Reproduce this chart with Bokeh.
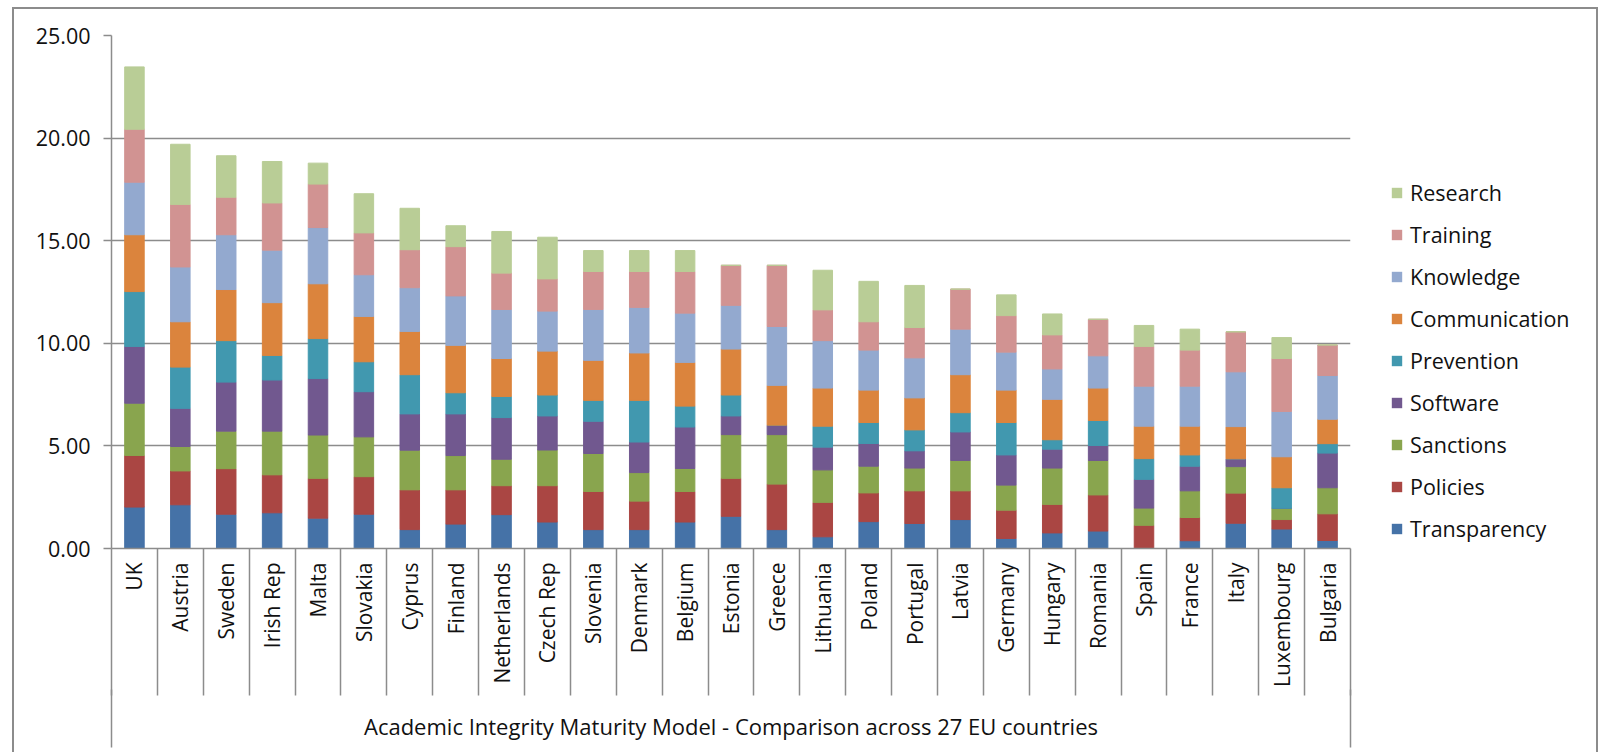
import math
from bokeh.plotting import figure
from bokeh.layouts import row
from bokeh.models import (Range1d, LinearAxis, FixedTicker, NumeralTickFormatter,
                          Legend, LegendItem, ColumnDataSource)
from bokeh.embed import file_html
from bokeh.resources import INLINE

countries = ["UK", "Austria", "Sweden", "Irish Rep", "Malta", "Slovakia", "Cyprus",
             "Finland", "Netherlands", "Czech Rep", "Slovenia", "Denmark", "Belgium",
             "Estonia", "Greece", "Lithuania", "Poland", "Portugal", "Latvia", "Germany",
             "Hungary", "Romania", "Spain", "France", "Italy", "Luxembourg", "Bulgaria"]

transparency = [2.02, 2.13, 1.67, 1.74, 1.48, 1.67, 0.92, 1.19, 1.65, 1.29, 0.92, 0.92, 1.29, 1.57,
                0.92, 0.57, 1.31, 1.22, 1.41, 0.49, 0.76, 0.85, 0.00, 0.38, 1.23, 0.95, 0.39]
policies = [2.51, 1.65, 2.22, 1.85, 1.94, 1.83, 1.94, 1.67, 1.41, 1.77, 1.86, 1.39, 1.49, 1.85,
            2.22, 1.68, 1.40, 1.59, 1.40, 1.38, 1.39, 1.76, 1.13, 1.13, 1.47, 0.46, 1.30]
sanctions = [2.55, 1.19, 1.83, 2.13, 2.11, 1.94, 1.93, 1.67, 1.29, 1.74, 1.85, 1.39, 1.12, 2.13,
             2.41, 1.58, 1.30, 1.11, 1.48, 1.22, 1.77, 1.68, 0.84, 1.30, 1.29, 0.55, 1.27]
software = [2.77, 1.86, 2.39, 2.49, 2.75, 2.20, 1.77, 2.03, 2.03, 1.66, 1.57, 1.49, 2.02, 0.91,
            0.46, 1.11, 1.11, 0.84, 1.39, 1.47, 0.92, 0.73, 1.40, 1.20, 0.38, 0.00, 1.69]
prevention = [2.67, 2.01, 2.02, 1.20, 1.95, 1.46, 1.91, 1.03, 1.03, 1.02, 1.02, 2.03, 1.02, 1.02,
              0.00, 1.02, 1.02, 1.02, 0.94, 1.58, 0.46, 1.22, 1.01, 0.55, 0.00, 1.00, 0.46]
communication = [2.77, 2.21, 2.49, 2.57, 2.67, 2.21, 2.11, 2.31, 1.85, 2.14, 1.95, 2.31, 2.13, 2.24,
                 1.94, 1.86, 1.58, 1.56, 1.85, 1.58, 1.97, 1.58, 1.58, 1.40, 1.57, 1.51, 1.19]
knowledge = [2.56, 2.67, 2.67, 2.56, 2.74, 2.03, 2.13, 2.41, 2.39, 1.95, 2.48, 2.22, 2.40, 2.13,
             2.87, 2.31, 1.95, 1.95, 2.22, 1.85, 1.48, 1.57, 1.95, 1.95, 2.67, 2.21, 2.13]
training = [2.58, 3.05, 1.83, 2.30, 2.12, 2.04, 1.85, 2.40, 1.77, 1.57, 1.85, 1.75, 2.03, 1.95,
            2.98, 1.50, 1.38, 1.48, 1.95, 1.78, 1.66, 1.78, 1.94, 1.76, 1.95, 2.58, 1.49]
research = [3.04, 2.93, 2.02, 2.02, 1.02, 1.91, 2.02, 1.02, 2.03, 2.03, 1.02, 1.02, 1.02, 0.00,
            0.00, 1.93, 1.97, 2.05, 0.00, 1.01, 1.02, 0.00, 1.02, 1.02, 0.00, 1.02, 0.00]

series_names = ["Transparency", "Policies", "Sanctions", "Software", "Prevention",
                "Communication", "Knowledge", "Training", "Research"]
series_colors = ["#4572A7", "#AA4643", "#89A54E", "#71588F", "#4198AF",
                 "#DB843D", "#93A9CF", "#D19392", "#B9CD96"]
y_ticks = [0, 5, 10, 15, 20, 25]
axis_title = "Academic Integrity Maturity Model - Comparison across 27 EU countries"

FONT = "Open Sans"
GRAY = "#8c8c8c"
TXT = "#111111"

n = len(countries)
centers = [i + 0.5 for i in range(n)]      # category slot centres
bounds = list(range(n + 1))                 # category slot boundaries

source = ColumnDataSource(dict(pos=centers, country=countries, Transparency=transparency,
                               Policies=policies, Sanctions=sanctions, Software=software,
                               Prevention=prevention, Communication=communication,
                               Knowledge=knowledge, Training=training, Research=research))

# ---------------- main chart ----------------
p = figure(width=1338, height=743, x_range=Range1d(0, n), y_range=Range1d(0, 25),
           x_axis_type=None, output_backend="svg", toolbar_location=None,
           min_border_left=97, min_border_right=2, min_border_top=26, min_border_bottom=204)
p.outline_line_color = None
p.background_fill_color = "white"
p.xgrid.grid_line_color = None

renderers = p.vbar_stack(series_names, x="pos", width=0.425, color=series_colors,
                         source=source)

yax = p.yaxis[0]
yax.ticker = FixedTicker(ticks=y_ticks)
yax.formatter = NumeralTickFormatter(format="0.00")
yax.major_tick_out = 8
yax.major_tick_in = 0
yax.minor_tick_line_color = None
yax.axis_line_color = GRAY
yax.axis_line_width = 1.5
yax.major_tick_line_color = GRAY
yax.major_tick_line_width = 1.5
yax.major_label_text_font = FONT
yax.major_label_text_font_size = "21.5px"
yax.major_label_text_color = TXT
yax.major_label_standoff = 13

p.ygrid.ticker = FixedTicker(ticks=y_ticks)
p.ygrid.grid_line_color = GRAY
p.ygrid.grid_line_width = 1.5

# category axis: country names with separator lines between slots
ax1 = LinearAxis(ticker=FixedTicker(ticks=centers, minor_ticks=bounds),
                 major_label_overrides={c: name for c, name in zip(centers, countries)},
                 major_label_orientation=math.pi / 2,
                 major_tick_out=0, major_tick_in=0, major_tick_line_color=None,
                 minor_tick_out=147, minor_tick_in=0, minor_tick_line_color=GRAY,
                 minor_tick_line_width=1.5,
                 axis_line_color=GRAY, axis_line_width=1.5,
                 major_label_standoff=-133,
                 major_label_text_font=FONT, major_label_text_font_size="21px",
                 major_label_text_color=TXT)
p.add_layout(ax1, "below")

# second level: group caption framed by the two outer lines
ax2 = LinearAxis(ticker=FixedTicker(ticks=[0, n]),
                 major_label_overrides={0: "", n: ""},
                 major_label_text_font_size="0px",
                 major_tick_out=58, major_tick_in=0, major_tick_line_color=GRAY,
                 major_tick_line_width=1.5, minor_tick_line_color=None,
                 axis_line_color=None,
                 axis_label=axis_title, axis_label_standoff=-37,
                 axis_label_text_font=FONT, axis_label_text_font_size="22px",
                 axis_label_text_font_style="normal", axis_label_text_color=TXT)
p.add_layout(ax2, "below")

# ---------------- legend panel ----------------
q = figure(width=244, height=743, x_range=Range1d(0, 1), y_range=Range1d(0, 1),
           x_axis_type=None, y_axis_type=None, output_backend="svg", toolbar_location=None,
           min_border=0)
q.outline_line_color = None
q.xgrid.grid_line_color = None
q.ygrid.grid_line_color = None
keys = [q.vbar(x=[0.5], top=[0.0], bottom=[0.0], width=0.1, fill_color=c, line_color=None)
        for c in series_colors]
items = [LegendItem(label=name, renderers=[r], index=0) for name, r in zip(series_names, keys)]
legend = Legend(items=list(reversed(items)), location=(38, 5),
                label_text_font=FONT, label_text_font_size="21.5px", label_text_color=TXT,
                glyph_width=13, glyph_height=13, label_standoff=7,
                label_height=26, spacing=13, padding=0, margin=0,
                border_line_color=None, background_fill_alpha=0)
q.add_layout(legend, "center")

layout = row(p, q, styles={"margin-left": "12px", "margin-top": "7px",
                           "border-left": "2px solid #8c8c8c",
                           "border-top": "2px solid #8c8c8c",
                           "border-right": "2px solid #8c8c8c"})

open("out.html", "w").write(file_html(layout, INLINE))
